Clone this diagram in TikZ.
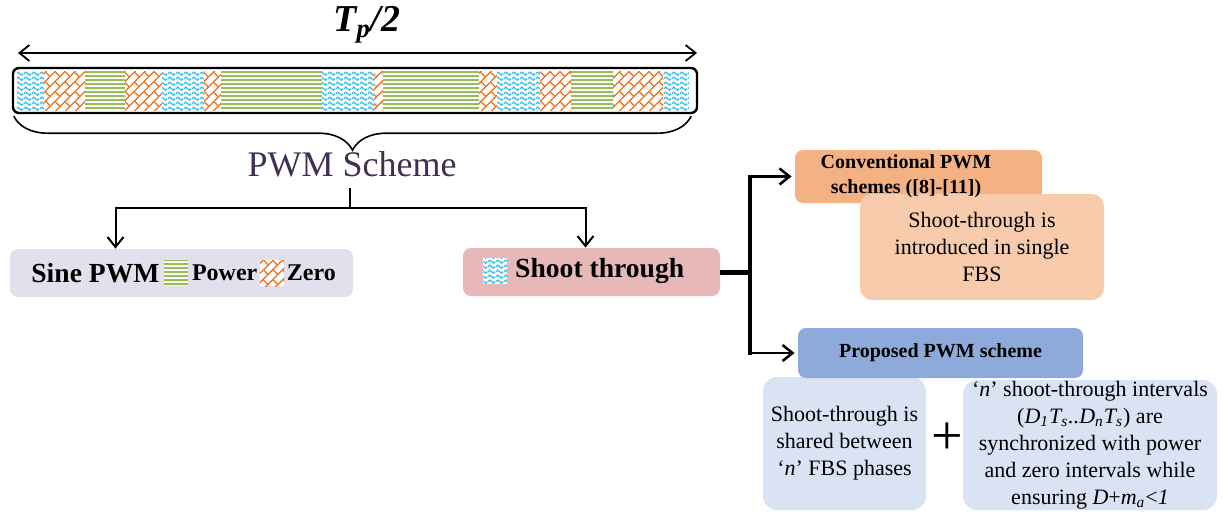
\documentclass[tikz,border=0pt]{standalone}
\usepackage{fontspec}
\setmainfont{Liberation Serif}
\usetikzlibrary{arrows.meta,positioning,patterns.meta,decorations.pathreplacing}

\definecolor{sinefill}{HTML}{E4DFEC}
\definecolor{shootfill}{HTML}{E6B9B8}
\definecolor{convhfill}{HTML}{F4B183}
\definecolor{convbfill}{HTML}{F8CBAD}
\definecolor{prophfill}{HTML}{8EAADB}
\definecolor{propbfill}{HTML}{DAE3F3}
\definecolor{pwmtext}{HTML}{403152}
\definecolor{powgreen}{HTML}{9BBB59}
\definecolor{zeroorange}{HTML}{ED7D31}
\definecolor{stblue}{HTML}{3FC0EA}

% fill patterns of the three intervals
\tikzdeclarepattern{
    name=powerlines, type=uncolored,
    bounding box={(0,0) and (2.2pt,2.2pt)},
    tile size={(2.2pt,2.2pt)},
    code={\draw[line width=1.1pt] (0,1.1pt) -- (2.2pt,1.1pt);}
}
\tikzdeclarepattern{
    name=stwave, type=uncolored,
    bounding box={(0,0) and (4pt,2.4pt)},
    tile size={(4pt,2.4pt)},
    code={\draw[line width=0.7pt] (0,1.2pt) sin (1pt,1.95pt) cos (2pt,1.2pt) sin (3pt,0.45pt) cos (4pt,1.2pt);}
}
\tikzdeclarepattern{
    name=zerobrick, type=uncolored,
    bounding box={(0,0) and (7pt,7pt)},
    tile size={(7pt,7pt)},
    tile transformation={rotate=45},
    code={
        \draw[line width=0.75pt] (0,0.4pt) -- (7pt,0.4pt) (0,3.9pt) -- (7pt,3.9pt)
            (1pt,0.4pt) -- (1pt,3.9pt) (4.5pt,3.9pt) -- (4.5pt,7.4pt);
    }
}

\tikzset{
    powseg/.style={pattern={powerlines}, pattern color=powgreen},
    stseg/.style={pattern={stwave}, pattern color=stblue},
    zeroseg/.style={pattern={zerobrick}, pattern color=zeroorange},
    legsq/.style={minimum width=12pt, minimum height=13pt, inner sep=0pt, preaction={fill=white}},
    barframe/.style={draw, line width=1.2pt, rounded corners=3pt, inner sep=0pt},
    dimline/.style={line width=0.9pt, {Straight Barb[length=5pt,width=8pt]}-{Straight Barb[length=5pt,width=8pt]}},
    pwmbrace/.style={decorate, decoration={brace, amplitude=17pt}, line width=0.8pt},
    treeline/.style={line width=1pt},
    treearrow/.style={line width=1pt, -{Straight Barb[length=5pt,width=8pt]}},
    stub/.style={line width=2.5pt},
    spine/.style={line width=2pt, line cap=rect},
    branch/.style={line width=1.3pt, -{Straight Barb[length=5pt,width=8pt]}, shorten >=1.5pt},
    box/.style={inner sep=0pt, rounded corners=4pt, align=center},
    biglbl/.style={inner sep=0pt, font=\bfseries\fontsize{13.8}{15}\selectfont},
    smalllbl/.style={inner sep=0pt, font=\bfseries\fontsize{12}{14}\selectfont},
    headtxt/.style={align=center, inner sep=0pt, font=\bfseries\fontsize{10}{12.5}\selectfont},
    bodytxt/.style={font=\fontsize{11}{13.5}\selectfont}
}

\begin{document}
\begin{tikzpicture}[x=0.5pt, y=-0.5pt]
    \useasboundingbox (0,0) rectangle (1224,514);

    % Period arrow
    \coordinate (pl) at (18,53);
    \coordinate (pr) at (697,53);
    \draw[dimline] (pl) -- (pr);
    \node[anchor=base, inner sep=0pt, font=\bfseries\itshape\fontsize{19}{19}\selectfont] (tp) at (367,32) {T\textsubscript{p}/2};

    % Bar of intervals
    \foreach \xa/\xb in {17/44,162/204,322/374,497/540,663/689}
        \fill[stseg] (\xa,71) rectangle (\xb,110);
    \foreach \xa/\xb in {44/85,125/162,204/221,374/383,479/497,540/571,613/663}
        \fill[zeroseg] (\xa,71) rectangle (\xb,110);
    \foreach \xa/\xb in {85/125,221/322,383/479,571/613}
        \fill[powseg] (\xa,71) rectangle (\xb,110);
    \node[barframe, minimum width=342pt, minimum height=22.5pt] (bar) at (355,90.5) {};

    % Brace and label
    \draw[pwmbrace] ([xshift=-3.5pt,yshift=-1pt]bar.south east) -- ([xshift=1pt,yshift=-1pt]bar.south west);
    \node[text=pwmtext, inner sep=0pt, font=\fontsize{18}{18}\selectfont] (pwm) at (352,164) {PWM Scheme};

    % Sine PWM
    \node[box, fill=sinefill, minimum width=171.5pt, minimum height=24pt] (sine) at (181.5,273) {};
    \node[biglbl, anchor=west] (sinetxt) at (31,273) {Sine PWM};
    \node[legsq, powseg, right=2pt of sinetxt] (powsq) {};
    \node[smalllbl, right=1.5pt of powsq] (powtxt) {Power};
    \node[legsq, zeroseg, right=1pt of powtxt] (zerosq) {};
    \node[smalllbl, right=1pt of zerosq] (zerotxt) {Zero};

    % Shoot through
    \node[box, fill=shootfill, minimum width=128.5pt, minimum height=24pt] (shoot) at (591.5,272) {};
    \node[legsq, stseg, anchor=west] (stsq) at (483,271) {};
    \node[biglbl, right=3.5pt of stsq] (sttxt) {Shoot through};

    % Tree below the scheme
    \coordinate (stemtop) at (350,188);
    \coordinate (fork) at (350,208);
    \draw[treeline] (stemtop) -- (fork);
    \draw[treearrow] (fork) -| ([xshift=-33pt]sine.north);
    \draw[treearrow] (fork) -| ([xshift=-3pt]shoot.north);

    % Conventional schemes
    \node[box, fill=convhfill, minimum width=123.5pt, minimum height=26.5pt] (convhead) at (918.5,176.5) {};
    \node[box, bodytxt, fill=convbfill, rounded corners=6pt, minimum width=122pt, minimum height=53pt] (convbody) at (982,247) {Shoot-through is\\introduced in single\\FBS};
    \node[headtxt] (convtxt) at (906,176) {Conventional PWM\\schemes ([8]-[11])};

    % Proposed scheme
    \node[box, bodytxt, fill=propbfill, rounded corners=7pt, minimum width=81.5pt, minimum height=66.5pt] (propleft) at (844.5,443.5) {Shoot-through is\\shared between\\‘\textit{n}’ FBS phases};
    \node[inner sep=0pt, font=\fontsize{28}{28}\selectfont] (plus) at (947,439) {+};
    \node[box, bodytxt, fill=propbfill, rounded corners=7pt, minimum width=127pt, minimum height=65pt] (propright) at (1090,445) {‘\textit{n}’ shoot-through intervals\\(\textit{D\textsubscript{1}T\textsubscript{s}..D\textsubscript{n}T\textsubscript{s}}) are\\synchronized with power\\and zero intervals while\\ensuring \textit{D}+\textit{m\textsubscript{a}}<\textit{1}};
    \node[box, headtxt, fill=prophfill, minimum width=142.5pt, minimum height=25pt] (prophead) at (940.5,353) {Proposed PWM scheme};

    % Branches to the two schemes
    \coordinate (split) at (750,272);
    \coordinate (ctop) at (750,176.5);
    \coordinate (cbot) at (750,353);
    \draw[stub] (shoot.east) -- (split);
    \draw[spine] (ctop) -- (cbot);
    \draw[branch] (ctop) -- (convhead.west);
    \draw[branch] (cbot) -- (prophead.west);

\end{tikzpicture}
\end{document}
